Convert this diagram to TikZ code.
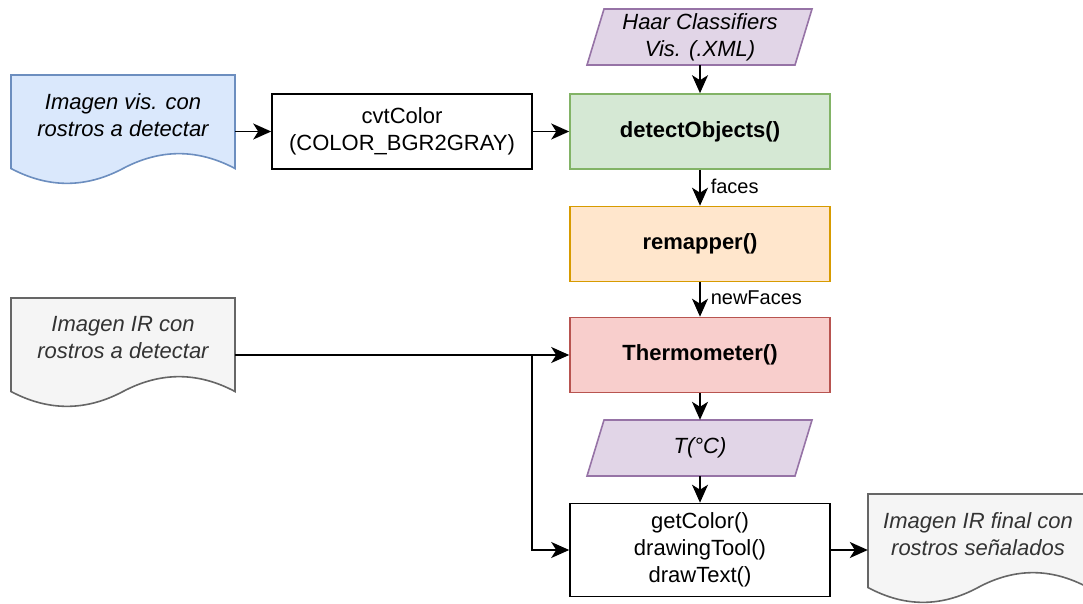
\documentclass[tikz,border=0pt]{standalone}
\usepackage{fontspec}
\setmainfont{Liberation Sans}
\usetikzlibrary{arrows.meta}

\definecolor{blueF}{HTML}{DAE8FC}\definecolor{blueD}{HTML}{6C8EBF}
\definecolor{greenF}{HTML}{D5E8D4}\definecolor{greenD}{HTML}{82B366}
\definecolor{orangeF}{HTML}{FFE6CC}\definecolor{orangeD}{HTML}{D79B00}
\definecolor{redF}{HTML}{F8CECC}\definecolor{redD}{HTML}{B85450}
\definecolor{purpleF}{HTML}{E1D5E7}\definecolor{purpleD}{HTML}{9673A6}
\definecolor{grayF}{HTML}{F5F5F5}\definecolor{grayD}{HTML}{666666}
\definecolor{grayT}{HTML}{333333}

% document shape with a wavy bottom edge: #1 left, #2 top, #3 width, #4 height
\newcommand{\docpath}[4]{%
  (#1,#2) -- ({#1+#3},#2) -- ({#1+#3},{#2+0.85*#4})
  .. controls ({#1+5*#3/6},{#2+0.67*#4}) and ({#1+2*#3/3},{#2+0.67*#4}) .. ({#1+#3/2},{#2+0.85*#4})
  .. controls ({#1+#3/3},{#2+1.03*#4}) and ({#1+#3/6},{#2+1.03*#4}) .. (#1,{#2+0.85*#4}) -- cycle}

\begin{document}
\begin{tikzpicture}[x=1pt,y=-1pt,
  mainfont/.style={font=\fontsize{22}{27}\selectfont},
  box/.style={draw, line width=1.6pt, minimum width=260pt, minimum height=75pt, align=center, mainfont, inner sep=0pt},
  docbox/.style={draw=none, minimum width=224pt, minimum height=110pt, inner sep=0pt},
  doctext/.style={align=center, font=\fontsize{22}{27}\selectfont\itshape},
  iotext/.style={align=center, font=\fontsize{22}{27}\selectfont\itshape},
  lbl/.style={font=\fontsize{20}{24}\selectfont, anchor=west, inner sep=0pt},
  conn/.style={line width=1.6pt, -{Stealth[length=18pt,width=16pt,inset=5pt]}},
]
\useasboundingbox (0,0) rectangle (1083,604);

% input documents
\filldraw[fill=blueF, draw=blueD, line width=1.6pt] \docpath{11}{75}{224}{110};
\node[docbox] (vis) at (123,131.5) {};
\node[doctext] at (123,115) {Imagen vis. con\\rostros a detectar};

\filldraw[fill=grayF, draw=grayD, line width=1.6pt] \docpath{11}{298}{224}{110};
\node[docbox] (ir) at (123,355) {};
\node[doctext, text=grayT] at (123,338) {Imagen IR con\\rostros a detectar};

% output document
\filldraw[fill=grayF, draw=grayD, line width=1.6pt] \docpath{868}{494}{220}{110};
\node[docbox, minimum width=220pt] (out) at (978,550) {};
\node[doctext, text=grayT] at (978,534) {Imagen IR final con\\rostros señalados};

% process boxes
\node[box] (cvt) at (402,131.5) {cvtColor\\(COLOR\_BGR2GRAY)};
\node[box, fill=greenF, draw=greenD, font=\fontsize{22}{27}\selectfont\bfseries] (det) at (700,131.5) {detectObjects()};
\node[box, fill=orangeF, draw=orangeD, font=\fontsize{22}{27}\selectfont\bfseries] (rem) at (700,244) {remapper()};
\node[box, fill=redF, draw=redD, font=\fontsize{22}{27}\selectfont\bfseries] (thr) at (700,355) {Thermometer()};
\node[box, minimum height=93pt] (draw) at (700,550) {getColor()\\drawingTool()\\drawText()};

% data (parallelograms)
\filldraw[fill=purpleF, draw=purpleD, line width=1.6pt] (604,9) -- (812,9) -- (795,65) -- (587,65) -- cycle;
\node[iotext, minimum width=208pt, minimum height=56pt, inner sep=0pt] (haar) at (700,37) {Haar Classifiers\\Vis. (.XML)};
\filldraw[fill=purpleF, draw=purpleD, line width=1.6pt] (604,420) -- (812,420) -- (795,476) -- (587,476) -- cycle;
\node[iotext, minimum width=208pt, minimum height=56pt, inner sep=0pt] (temp) at (700,448) {T(°C)};

% connectors
\draw[conn] (vis.east) -- (cvt.west);
\draw[conn] (cvt.east) -- (det.west);
\draw[conn] (haar.south) -- (det.north);
\draw[conn] (det.south) -- node[lbl, pos=0.45, xshift=10pt] {faces} (rem.north);
\draw[conn] (rem.south) -- node[lbl, pos=0.45, xshift=10pt] {newFaces} (thr.north);
\draw[conn] (ir.east) -- (thr.west);
\coordinate (split) at (532,355);
\draw[conn] (split) |- (draw.west);
\draw[conn] (thr.south) -- (temp.north);
\draw[conn] (temp.south) -- (draw.north);
\draw[conn] (draw.east) -- (out.west);
\end{tikzpicture}
\end{document}
